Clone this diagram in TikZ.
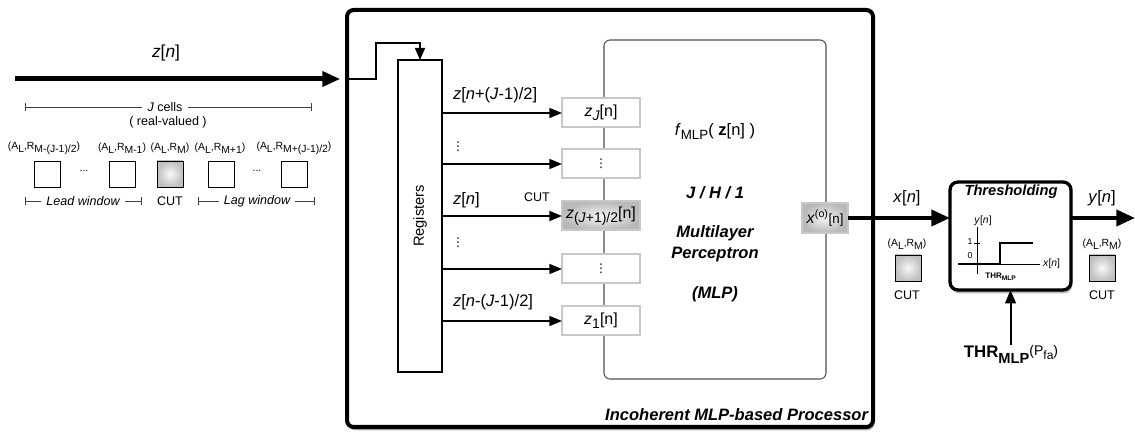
\documentclass[tikz,border=0pt]{standalone}
\usepackage{fontspec}
\setmainfont{Liberation Sans}
\newfontfamily\dejavu{DejaVu Sans}
\usetikzlibrary{arrows.meta,shadows}
\newcommand\zit{\textit{z}}
\newcommand\nit{\textit{n}}
\newcommand\lsub[1]{\textsubscript{#1}}
\newcommand\lsup[1]{\textsuperscript{#1}}
\newcommand\lowr[1]{\raisebox{-2pt}{#1}}
\newcommand\bsub[1]{\raisebox{-3pt}{\fontsize{10.5}{12}\selectfont #1}}
\newcommand\mydots{{\dejavu\fontsize{9}{10}\selectfont ⋮}}
\definecolor{boxgray}{HTML}{C8C8C8}
\definecolor{mlpgray}{HTML}{505050}
\begin{document}
\begin{tikzpicture}[x=0.75pt,y=-0.75pt,
  every node/.style={inner sep=0pt, outer sep=0pt},
  big/.style={font=\fontsize{12.4}{14.5}\selectfont},
  mid/.style={font=\fontsize{9.4}{11}\selectfont},
  tiny/.style={font=\fontsize{7.8}{9}\selectfont},
  boxtxt/.style={font=\fontsize{12}{13}\selectfont},
  procbox/.style={draw, line width=3pt, rounded corners=5pt, fill=white,
    drop shadow={shadow xshift=1pt, shadow yshift=-2.5pt, opacity=0.55}},
  regbox/.style={draw, line width=1.2pt, fill=white},
  mlpbox/.style={draw=mlpgray, line width=0.8pt, rounded corners=4.5pt},
  inbox/.style={draw=boxgray, line width=1.5pt, fill=white, minimum width=58.5pt, minimum height=21.75pt},
  shadebox/.style={draw=boxgray, line width=1.5pt, inner color=gray!8, outer color=gray!55},
  wsq/.style={draw, line width=0.7pt, fill=white, minimum size=19.5pt},
  csq/.style={draw, line width=0.7pt, inner color=gray!5, outer color=gray!50, minimum size=19.5pt},
  thrbox/.style={draw, line width=2.5pt, rounded corners=6pt, fill=white,
    drop shadow={shadow xshift=1pt, shadow yshift=-2.5pt, opacity=0.55}},
  fatarrow/.style={line width=3.75pt, -{Triangle[length=13.5pt,width=11pt]}},
  midarrow/.style={line width=3pt, -{Triangle[length=14pt,width=12pt]}},
  thinarrow/.style={line width=1.2pt, -{Triangle[length=9.5pt,width=7.5pt]}},
  dimline/.style={line width=0.6pt, draw=black!75, {Bar[width=6pt]}-{Bar[width=6pt]}},
]
\useasboundingbox (0,0) rectangle (1135,434);

% processor box
\node[procbox, minimum width=394.5pt, minimum height=312.75pt] (proc) at (610,218.5) {};
\node[font=\bfseries\itshape\fontsize{12.4}{14.5}\selectfont, anchor=east] (proclbl) at (868,415) {Incoherent MLP-based Processor};

% MLP box
\node[mlpbox, minimum width=166.5pt, minimum height=254.25pt] (mlp) at (715,209.5) {};
\node[big] (fmlp) at (715,132) {\textit{f}\raisebox{-3pt}{\fontsize{10}{12}\selectfont MLP}( \textbf{z}[n] )};
\node[font=\bfseries\itshape\fontsize{12.4}{14.5}\selectfont] (jh1) at (715,193) {J / H / 1};
\node[font=\bfseries\itshape\fontsize{12.4}{15.75}\selectfont, align=center] (mlpname) at (715,244) {Multilayer\\Perceptron};
\node[font=\bfseries\itshape\fontsize{12.4}{14.5}\selectfont] (mlpabbr) at (715,294) {(MLP)};

% registers
\node[regbox, minimum width=33pt, minimum height=234pt] (reg) at (420,216) {};
\node[font=\fontsize{11}{13}\selectfont, rotate=90] (reglbl) at (420,216) {Registers};

% input boxes
\node[inbox, boxtxt] (in5) at (601,113) {\zit\bsub{\textit{J}}[n]};
\node[inbox, boxtxt] (in4) at (601,164) {\mydots};
\node[shadebox, boxtxt, minimum width=58.5pt, minimum height=21.75pt] (in3) at (601,216) {\zit\bsub{(\textit{J}+1)/2}[n]};
\node[inbox, boxtxt] (in2) at (601,269) {\mydots};
\node[inbox, boxtxt] (in1) at (601,321) {\zit\bsub{1}[n]};
\foreach \i in {1,...,5} \draw[thinarrow] (reg.east |- in\i.west) -- (in\i.west);

\node[big, anchor=west] (l5) at (453,95) {\zit[\nit+(\textit{J}-1)/2]};
\node (d1) at (458,147) {\mydots};
\node[big, anchor=west] (l3) at (453,200) {\zit[\nit]};
\node[mid] (cutl) at (537,197) {CUT};
\node (d2) at (458,243) {\mydots};
\node[big, anchor=west] (l1) at (453,302) {\zit[\nit-(\textit{J}-1)/2]};

% output of MLP
\node[shadebox, boxtxt, minimum width=34.5pt, minimum height=22.5pt] (xo) at (825,218) {\textit{x}\lsup{(o)}{\fontsize{10}{11}\selectfont[n]}};

% thresholding
\node[thrbox, minimum width=90.75pt, minimum height=81pt] (thr) at (1010.5,236) {};
\node[font=\bfseries\itshape\fontsize{11}{13}\selectfont] (thrt) at (1011,192) {Thresholding};
\draw[line width=0.6pt] (977,227) -- (977,274);
\draw[line width=0.6pt] (958,264) -- (1040,264);
\draw[line width=1.2pt] (958,264) -- (1000,264) -- (1000,243) -- (1033,243);
\draw[line width=0.6pt] (974,243) -- (980,243);
\node[tiny] (py) at (983,221) {\textit{y}[\textit{n}]};
\node[font=\fontsize{6.5}{8}\selectfont] (p1) at (970,242) {1};
\node[font=\fontsize{6.5}{8}\selectfont] (p0) at (970,256) {0};
\node[tiny, anchor=west] (px) at (1043,264) {\textit{x}[\textit{n}]};
\node[font=\bfseries\fontsize{6}{7}\selectfont] (pthr) at (1001,277) {THR\lsub{MLP}};

\node[font=\fontsize{12.6}{14}\selectfont] (thrin) at (1011,354) {\textbf{THR\raisebox{-4pt}{\fontsize{11}{12}\selectfont\bfseries MLP}}{\fontsize{10.5}{12}\selectfont\raisebox{2pt}{(P\raisebox{-3.5pt}{\fontsize{9}{10}\selectfont fa})}}};
\draw[line width=1.5pt, -{Triangle[length=10pt,width=8pt]}] (thrin.north -| thr.south) -- (thr.south);

% x[n], y[n] connectors
\draw[midarrow] (xo.east) -- (thr.west |- xo.east);
\coordinate (yend) at (1135,218);
\draw[midarrow] (thr.east |- xo.east) -- (yend);

\node[big] (xl) at (907,198) {\textit{x}[\nit]};
\node[tiny] (xa) at (907,244) {(A\lowr{L},R\lowr{M})};
\node[csq] (xsq) at (908,268) {};
\node[mid] (xcut) at (907,295) {CUT};

\node[big] (yl) at (1102,198) {\textit{y}[\nit]};
\node[tiny] (ya) at (1102,244) {(A\lowr{L},R\lowr{M})};
\node[csq] (ysq) at (1102,268) {};
\node[mid] (ycut) at (1102,295) {CUT};

% input signal
\node[font=\fontsize{13}{15}\selectfont] (zl) at (166,53) {\zit[\nit]};
\coordinate (zsrc) at (15,79);
\draw[fatarrow] (zsrc) -- ([xshift=-5pt]proc.west |- zsrc);
\coordinate (bend) at (376,43);
\draw[line width=1.2pt, -{Triangle[length=9pt,width=7.5pt]}] (proc.west |- zsrc) -| (bend) -| (reg.north);

% left window description
\coordinate (ja) at (25,107);
\coordinate (jb) at (312,107);
\draw[dimline] (ja) -- (jb);
\node[mid, fill=white, inner xsep=4pt, inner ysep=1pt] (jc) at (165,107) {\textit{J} cells};
\node[mid] (rv) at (168,122) {( real-valued )};

\node[tiny] (a1) at (44,148) {(A\lowr{L},R\lowr{M-(J-1)/2})};
\node[tiny] (a2) at (122,148) {(A\lowr{L},R\lowr{M-1})};
\node[tiny] (a3) at (170,148) {(A\lowr{L},R\lowr{M})};
\node[tiny] (a4) at (220,148) {(A\lowr{L},R\lowr{M+1})};
\node[tiny] (a5) at (294,148) {(A\lowr{L},R\lowr{M+(J-1)/2})};

\node[wsq] (s1) at (47,174) {};
\node[tiny] (e1) at (84,171) {...};
\node[wsq] (s2) at (122,174) {};
\node[csq] (s3) at (170,174) {};
\node[wsq] (s4) at (221,174) {};
\node[tiny] (e2) at (257,171) {...};
\node[wsq] (s5) at (294,174) {};

\coordinate (lda) at (25,201);
\coordinate (ldb) at (142,201);
\draw[dimline] (lda) -- (ldb);
\node[fill=white, inner xsep=4pt, inner ysep=1pt, font=\itshape\fontsize{9.4}{11}\selectfont] (ldl) at (83,201) {Lead window};
\node[mid] (cutw) at (170,201) {CUT};
\coordinate (lga) at (198,201);
\coordinate (lgb) at (315,201);
\draw[dimline] (lga) -- (lgb);
\node[fill=white, inner xsep=4pt, inner ysep=1pt, font=\itshape\fontsize{9.4}{11}\selectfont] (lgl) at (257,201) {Lag window};
\end{tikzpicture}
\end{document}
